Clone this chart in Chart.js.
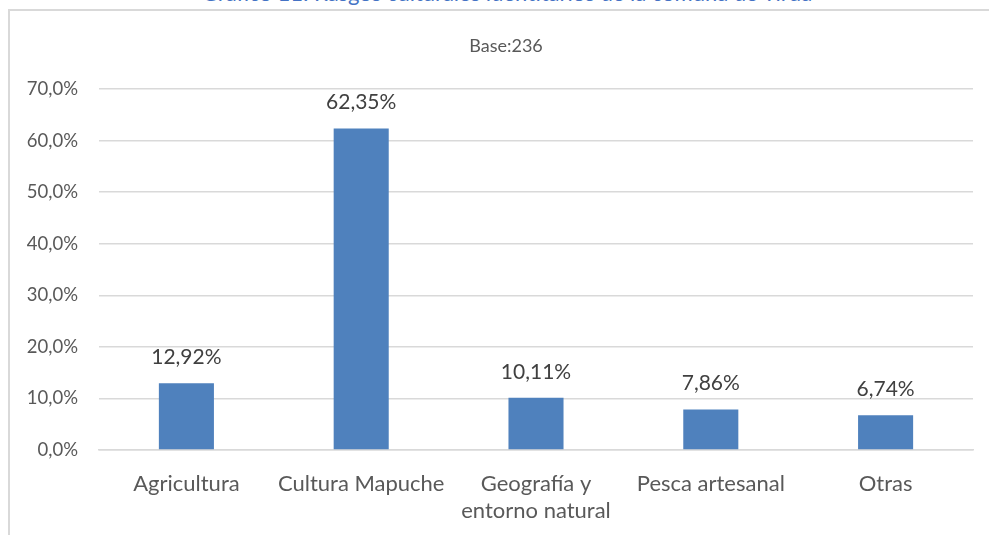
<!DOCTYPE html>
<html>
<head>
<meta charset="utf-8">
<script src="https://cdn.jsdelivr.net/npm/chart.js@4"></script>
<style>
html,body{margin:0;padding:0;background:#fff;overflow:hidden;}
#wrap{position:relative;width:989px;height:535px;}
#frame{position:absolute;left:8px;top:9px;width:981px;height:526px;border-top:2px solid #d9d9d9;border-left:2px solid #d9d9d9;box-sizing:border-box;}
#title{position:absolute;left:7px;width:1000px;top:-18px;text-align:center;font-family:Lato,sans-serif;font-size:22px;line-height:22px;color:#4472C4;white-space:nowrap;}
canvas{position:absolute;left:0;top:0;}
</style>
</head>
<body>
<div id="wrap">
<div id="frame"></div>
<div id="title">Gráfico 11: Rasgos culturales identitarios de la comuna de Tirúa</div>
<canvas id="c" width="989" height="535"></canvas>
</div>
<script>
const categories = ['Agricultura', 'Cultura Mapuche', ['Geografía y', 'entorno natural'], 'Pesca artesanal', 'Otras'];
const values = [12.92, 62.35, 10.11, 7.86, 6.74];
const valueLabels = ['12,92%', '62,35%', '10,11%', '7,86%', '6,74%'];
const baseText = 'Base:236';

const fmt = v => v.toFixed(1).replace('.', ',') + '%';

const barLabels = {
  id: 'barLabels',
  afterDatasetsDraw(chart){
    const ctx = chart.ctx;
    const meta = chart.getDatasetMeta(0);
    ctx.save();
    ctx.font = '21px Lato, sans-serif';
    ctx.fillStyle = '#404040';
    ctx.textAlign = 'center';
    ctx.textBaseline = 'alphabetic';
    meta.data.forEach((bar, i) => {
      ctx.fillText(valueLabels[i], bar.x, bar.y - 19);
    });
    // base note
    ctx.font = '18px Lato, sans-serif';
    ctx.fillStyle = '#595959';
    ctx.textBaseline = 'middle';
    ctx.fillText(baseText, 506, 46);
    ctx.restore();
  }
};

new Chart(document.getElementById('c'), {
  type: 'bar',
  data: {
    labels: categories,
    datasets: [{
      data: values,
      backgroundColor: '#4F81BD',
      borderWidth: 0,
      categoryPercentage: 1,
      barPercentage: 0.315
    }]
  },
  options: {
    responsive: false,
    animation: false,
    layout: {padding: {left: 0, right: 16, top: 89, bottom: 0}},
    plugins: {
      legend: {display: false},
      tooltip: {enabled: false},
      title: {display: false}
    },
    scales: {
      y: {
        min: 0, max: 70,
        afterFit: s => { s.width = 99; },
        border: {display: false},
        grid: {color: '#d9d9d9', lineWidth: 1.5, drawTicks: false},
        ticks: {stepSize: 10, padding: 21, color: '#595959', font: {family: 'Lato, sans-serif', size: 18.5}, callback: v => fmt(v)}
      },
      x: {
        afterFit: s => { s.height = 85; },
        border: {display: true, color: '#d9d9d9', width: 1.5},
        grid: {display: false},
        ticks: {padding: 12, color: '#595959', maxRotation: 0, autoSkip: false, font: {family: 'Lato, sans-serif', size: 22, lineHeight: 1.23}}
      }
    }
  },
  plugins: [barLabels]
});
</script>
</body>
</html>
